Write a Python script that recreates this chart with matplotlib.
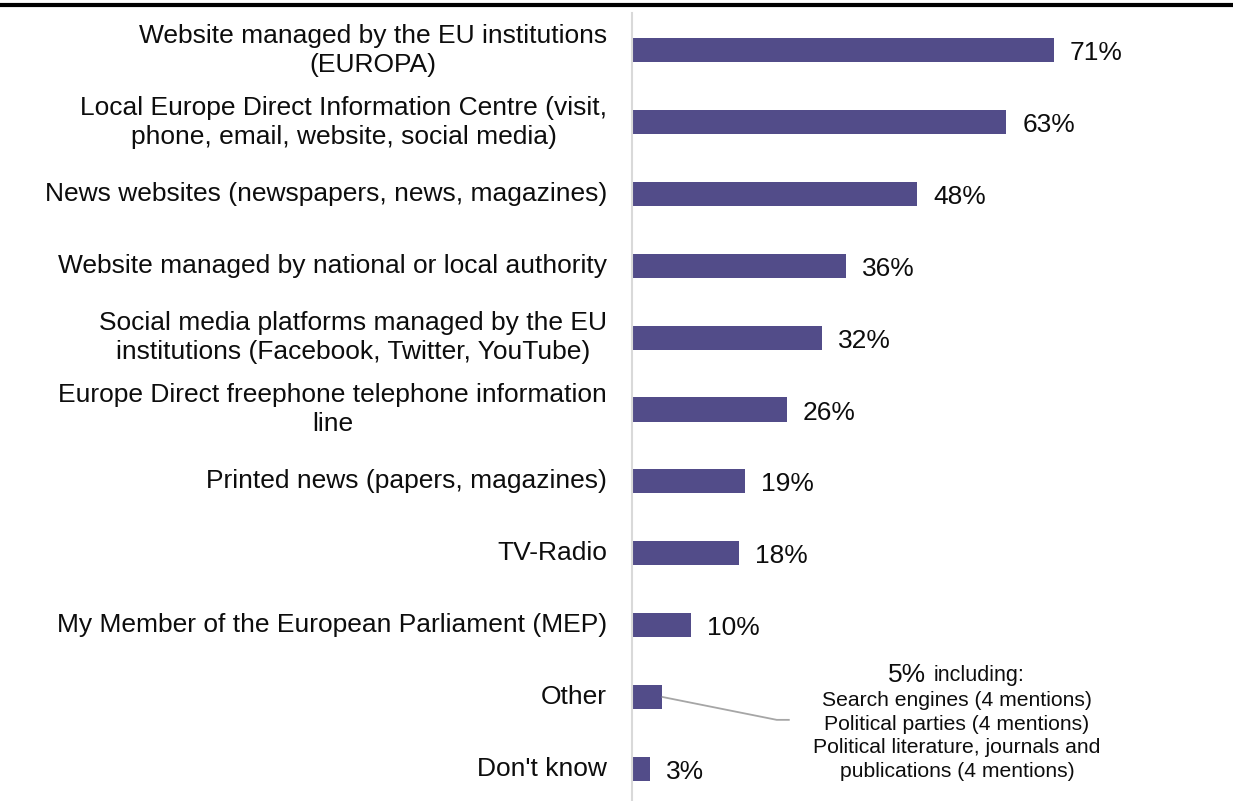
import matplotlib
matplotlib.use("Agg")
import matplotlib.pyplot as plt
from matplotlib.lines import Line2D

categories = [
    "Website managed by the EU institutions\n(EUROPA)",
    "Local Europe Direct Information Centre (visit,\nphone, email, website, social media)",
    "News websites (newspapers, news, magazines)",
    "Website managed by national or local authority",
    "Social media platforms managed by the EU\ninstitutions (Facebook, Twitter, YouTube)",
    "Europe Direct freephone telephone information\nline",
    "Printed news (papers, magazines)",
    "TV-Radio",
    "My Member of the European Parliament (MEP)",
    "Other",
    "Don't know",
]
values = [71, 63, 48, 36, 32, 26, 19, 18, 10, 5, 3]
value_labels = ["71%", "63%", "48%", "36%", "32%", "26%", "19%", "18%", "10%", "", "3%"]
other_note_head = "5%"
other_note_head2 = "including:"
other_note_lines = "Search engines (4 mentions)\nPolitical parties (4 mentions)\nPolitical literature, journals and\npublications (4 mentions)"

plt.rcParams['font.family'] = ['Liberation Sans', 'DejaVu Sans']

W, H = 1233, 801
fig = plt.figure(figsize=(W / 100, H / 100), dpi=100)

ax_left, ax_right = 632, 1200
ax_top, ax_bot = 13, 801
ax = fig.add_axes([ax_left / W, 1 - ax_bot / H, (ax_right - ax_left) / W, (ax_bot - ax_top) / H])
px_per_unit = (1054 - 632) / 71.0
row_px = 71.8
ax.set_xlim(0, (ax_right - ax_left) / px_per_unit)
ax.set_ylim(10.45, -0.52)

color = "#524C89"
txt_color = "#0D0D0D"
ypos = list(range(len(categories)))
ax.barh(ypos, values, height=0.335, color=color, edgecolor="none")

for y, v, lab in zip(ypos, values, value_labels):
    if lab:
        ax.annotate(lab, xy=(v, y), xytext=(16, -3), textcoords="offset pixels",
                    ha="left", va="center", fontsize=19, color=txt_color)

for y, lab in zip(ypos, categories):
    ax.annotate(lab, xy=(0, y), xytext=(-25, 0), textcoords="offset pixels",
                ha="right", va="center", fontsize=19, color=txt_color,
                multialignment="center" if "\n" in lab else "right", linespacing=1.28)

for s in ["top", "right", "bottom"]:
    ax.spines[s].set_visible(False)
ax.spines["left"].set_color("#D9D9D9")
ax.spines["left"].set_linewidth(1.5)
ax.set_xticks([])
ax.set_yticks([])

# connector for Other
oi = categories.index("Other")
x0 = values[oi]
x1 = x0 + (777 - 662) / px_per_unit
x2 = x0 + (790 - 662) / px_per_unit
y1 = oi + 23 / row_px
ax.plot([x0, x1, x2], [oi, y1, y1], color="#A6A6A6", lw=1.3, solid_capstyle="butt")

fig.text(907 / W, 1 - 675 / H, other_note_head, ha="center", va="center", fontsize=19, color=txt_color)
fig.text(979 / W, 1 - 676 / H, other_note_head2, ha="center", va="center", fontsize=15.5, color=txt_color)
fig.text(957 / W, 1 - 736 / H, other_note_lines, ha="center", va="center", fontsize=15.2,
         color=txt_color, linespacing=1.3)

fig.add_artist(Line2D([0, 1], [1 - 5 / H, 1 - 5 / H], transform=fig.transFigure, color="black", lw=3))

fig.savefig("out.png", dpi=100)
